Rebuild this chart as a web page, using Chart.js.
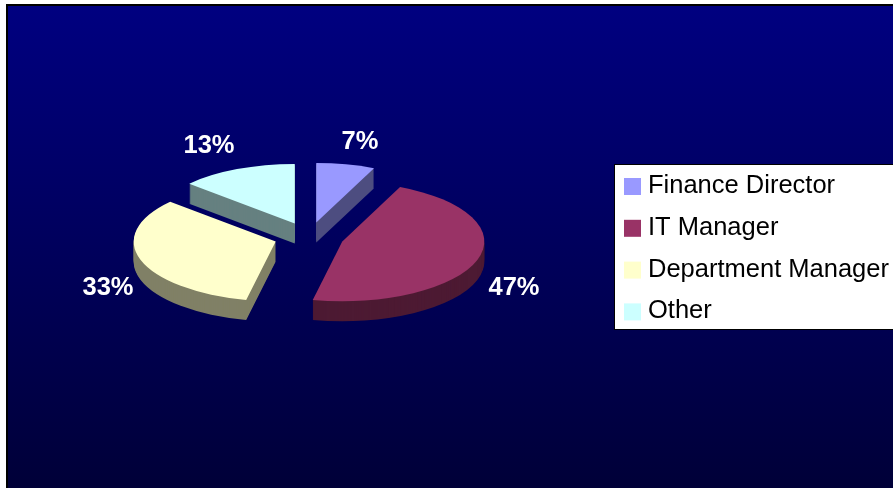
<!DOCTYPE html>
<html>
<head>
<meta charset="utf-8">
<style>
html, body { margin: 0; padding: 0; background: #fff; overflow: hidden; }
#wrap { width: 893px; height: 488px; }
</style>
<script src="https://cdn.jsdelivr.net/npm/chart.js@4"></script>
</head>
<body>
<div id="wrap"><canvas id="myChart"></canvas></div>
<script>
const categories = ['Finance Director', 'IT Manager', 'Department Manager', 'Other'];
// the percents 7/47/33/13 and the slice angles fit counts out of 15
const counts = [1, 7, 5, 2];
const topColors = ['#9999ff', '#993366', '#ffffcc', '#ccffff'];
const sideColors = ['#4d4d80', '#4d1a33', '#808066', '#668080'];
// where the percent labels sit on the page
const labelSpots = [[360, 142], [514, 288], [108, 288], [209, 146]];

const flatten = 0.42;   // squash of the pie to look tilted
const depth = 20;       // height of the pie side in pixels
const explode = 35;     // how far each slice is pulled out
const drawOrder = [3, 0, 2, 1]; // back slices first

function drawSlice(ctx, arc, color) {
    const mid = (arc.startAngle + arc.endAngle) / 2;
    ctx.save();
    ctx.translate(Math.cos(mid) * explode, Math.sin(mid) * explode);
    const saved = arc.options;
    arc.options = Object.create(saved, {
        backgroundColor: { value: color },
        borderColor: { value: color }
    });
    arc.draw(ctx);
    arc.options = saved;
    ctx.restore();
}

// fake 3D: squash the canvas, stack the slice downwards, then the top face
const tiltedPie = {
    id: 'tiltedPie',
    beforeDraw(chart) {
        const ctx = chart.ctx;
        const grad = ctx.createLinearGradient(0, 6, 0, 488);
        grad.addColorStop(0, '#000080');
        grad.addColorStop(1, '#000038');
        ctx.save();
        ctx.fillStyle = '#fff';
        ctx.fillRect(0, 0, chart.width, chart.height);
        ctx.fillStyle = '#000';
        ctx.fillRect(6, 4, chart.width - 6, chart.height - 4);
        ctx.fillStyle = grad;
        ctx.fillRect(8, 6, chart.width - 8, chart.height - 6);
        ctx.restore();
    },
    beforeDatasetsDraw(chart) {
        const ctx = chart.ctx;
        const arcs = chart.getDatasetMeta(0).data;
        const cy = arcs[0].y;
        drawOrder.forEach(i => {
            for (let k = depth; k >= 0; k--) {
                ctx.save();
                ctx.translate(0, cy + k);
                ctx.scale(1, flatten);
                ctx.translate(0, -cy);
                drawSlice(ctx, arcs[i], k === 0 ? topColors[i] : sideColors[i]);
                ctx.restore();
            }
        });
        return false;
    },
    afterDraw(chart) {
        const ctx = chart.ctx;
        const total = counts.reduce((acc, v) => acc + v, 0);
        ctx.save();
        // percent labels
        ctx.font = 'bold 25.5px "Liberation Sans", Arial, sans-serif';
        ctx.fillStyle = '#fff';
        ctx.textAlign = 'center';
        ctx.textBaseline = 'middle';
        counts.forEach((v, i) => {
            ctx.fillText(Math.round(v / total * 100) + '%', labelSpots[i][0], labelSpots[i][1]);
        });
        // legend box
        ctx.fillStyle = '#000';
        ctx.fillRect(614, 164, 279, 166);
        ctx.fillStyle = '#fff';
        ctx.fillRect(615, 165, 278, 164);
        ctx.font = '25.5px "Liberation Sans", Arial, sans-serif';
        ctx.textAlign = 'left';
        ctx.textBaseline = 'alphabetic';
        categories.forEach((name, i) => {
            const y = 178 + i * 41.8;
            ctx.fillStyle = topColors[i];
            ctx.fillRect(624, y, 17, 17);
            ctx.fillStyle = '#000';
            ctx.fillText(name, 648, y + 15);
        });
        ctx.restore();
    }
};

const ctx = document.getElementById('myChart').getContext('2d');
const myPieChart = new Chart(ctx, {
    type: 'pie',
    data: {
        labels: categories,
        datasets: [{
            data: counts,
            backgroundColor: topColors,
            borderWidth: 0,
            radius: 142
        }]
    },
    options: {
        responsive: true,
        maintainAspectRatio: false,
        animation: false,
        layout: { padding: { right: 275, bottom: 14 } },
        plugins: {
            legend: { display: false },
            tooltip: { enabled: false }
        }
    },
    plugins: [tiltedPie]
});
</script>
</body>
</html>
